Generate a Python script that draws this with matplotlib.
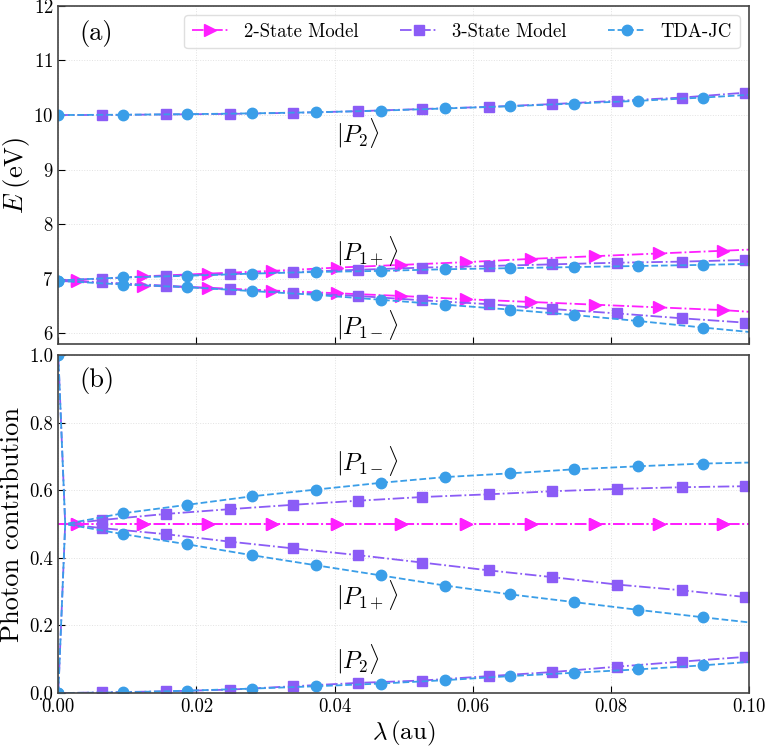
import matplotlib
matplotlib.use("Agg")
import matplotlib.pyplot as plt

plt.rcParams['font.family'] = 'serif'
plt.rcParams['font.serif'] = ['cmr10']
plt.rcParams['mathtext.fontset'] = 'cm'
plt.rcParams['axes.formatter.use_mathtext'] = True

# lambda grids (au) for each model
lam_2s = [0.0, 0.0027, 0.0123, 0.0217, 0.031, 0.0403, 0.0496, 0.059, 0.0684, 0.0777, 0.087, 0.0963, 0.1]
lam_3s = [0.0, 0.001, 0.0063, 0.0156, 0.0248, 0.034, 0.0434, 0.0527, 0.0623, 0.0715, 0.0809, 0.0903, 0.0995]
lam_tda = [0.0, 0.001, 0.0094, 0.0187, 0.028, 0.0373, 0.0467, 0.056, 0.0654, 0.0747, 0.084, 0.0934, 0.1]

# energies (eV)
E_2s_up = [6.96, 6.97, 7.04, 7.09, 7.14, 7.2, 7.25, 7.3, 7.36, 7.41, 7.46, 7.51, 7.53]
E_2s_lo = [6.96, 6.95, 6.87, 6.83, 6.78, 6.73, 6.68, 6.62, 6.57, 6.52, 6.47, 6.42, 6.39]
E_3s_up = [6.96, 6.97, 7.0, 7.05, 7.08, 7.12, 7.16, 7.2, 7.23, 7.26, 7.29, 7.31, 7.34]
E_3s_lo = [6.96, 6.95, 6.93, 6.87, 6.8, 6.74, 6.68, 6.6, 6.53, 6.44, 6.36, 6.27, 6.19]
E_3s_p2 = [10.0, 10.0, 10.0, 10.01, 10.02, 10.04, 10.07, 10.11, 10.15, 10.2, 10.26, 10.32, 10.41]
E_tda_up = [6.96, 6.97, 7.02, 7.05, 7.09, 7.12, 7.14, 7.17, 7.19, 7.21, 7.23, 7.25, 7.27]
E_tda_lo = [6.96, 6.95, 6.89, 6.84, 6.77, 6.7, 6.61, 6.52, 6.43, 6.33, 6.22, 6.1, 6.02]
E_tda_p2 = [10.0, 10.0, 10.005, 10.015, 10.03, 10.05, 10.08, 10.12, 10.16, 10.21, 10.26, 10.32, 10.37]

# photon contribution
ph_2s_up = [0.5] * 13
ph_2s_lo = [0.5] * 13
ph_3s_m = [0.0, 0.5, 0.512, 0.53, 0.544, 0.557, 0.569, 0.58, 0.588, 0.597, 0.604, 0.609, 0.612]
ph_3s_p = [1.0, 0.5, 0.488, 0.47, 0.448, 0.428, 0.408, 0.386, 0.363, 0.343, 0.321, 0.304, 0.284]
ph_3s_p2 = [0.0, 0.0, 0.002, 0.005, 0.01, 0.02, 0.03, 0.037, 0.05, 0.062, 0.078, 0.093, 0.107]
ph_tda_m = [0.0, 0.5, 0.532, 0.557, 0.582, 0.602, 0.622, 0.639, 0.65, 0.662, 0.671, 0.679, 0.682]
ph_tda_p = [1.0, 0.5, 0.47, 0.44, 0.408, 0.378, 0.348, 0.318, 0.292, 0.269, 0.246, 0.224, 0.209]
ph_tda_p2 = [0.0, 0.0, 0.002, 0.007, 0.013, 0.02, 0.028, 0.038, 0.05, 0.06, 0.07, 0.082, 0.092]

c2 = '#ff1fff'
c3 = '#8b5cf6'
ct = '#3a9ee8'
mk2 = list(range(1, 12))
mk3 = list(range(2, 13))
mkt = [0] + list(range(2, 12))

sty2 = dict(color=c2, ls='-.', marker='>', ms=8, lw=1.3, markevery=mk2)
sty3 = dict(color=c3, ls='-.', marker='s', ms=7.5, lw=1.3, markevery=mk3)
styt = dict(color=ct, ls='--', marker='o', ms=7.5, lw=1.3, markevery=mkt)

fig, (ax1, ax2) = plt.subplots(2, 1, figsize=(7.65, 7.48), dpi=100, sharex=True)
fig.subplots_adjust(left=0.0762, right=0.979, top=0.992, bottom=0.0735, hspace=0.033)

# (a) energies
ax1.plot(lam_2s, E_2s_up, label='2-State Model', **sty2)
ax1.plot(lam_2s, E_2s_lo, **sty2)
ax1.plot(lam_3s, E_3s_up, label='3-State Model', **sty3)
ax1.plot(lam_3s, E_3s_lo, **sty3)
ax1.plot(lam_3s, E_3s_p2, **sty3)
ax1.plot(lam_tda, E_tda_up, label='TDA-JC', **styt)
ax1.plot(lam_tda, E_tda_lo, **styt)
ax1.plot(lam_tda, E_tda_p2, **styt)
ax1.set_ylim(5.8, 12)
ax1.set_ylabel(r'$E\;(\mathrm{eV})$', fontsize=19)
ax1.yaxis.set_label_coords(-0.038, 0.5)
ax1.text(0.0031, 11.5, '(a)', fontsize=19, va='center')
ax1.text(0.0402, 9.67, r'$|P_2\rangle$', fontsize=17.5, va='center')
ax1.text(0.0402, 7.5, r'$|P_{1+}\rangle$', fontsize=17.5, va='center')
ax1.text(0.0402, 6.15, r'$|P_{1-}\rangle$', fontsize=17.5, va='center')
leg = ax1.legend(loc='upper right', ncol=3, fontsize=13.5, frameon=True, fancybox=True,
                 edgecolor='#d8d8d8', borderaxespad=0.5, columnspacing=2.2)

# (b) photon contribution
ax2.plot(lam_2s, ph_2s_up, **sty2)
ax2.plot(lam_2s, ph_2s_lo, **sty2)
ax2.plot(lam_3s, ph_3s_m, **sty3)
ax2.plot(lam_3s, ph_3s_p, **sty3)
ax2.plot(lam_3s, ph_3s_p2, **sty3)
ax2.plot(lam_tda, ph_tda_m, **styt)
ax2.plot(lam_tda, ph_tda_p, **styt)
ax2.plot(lam_tda, ph_tda_p2, **styt)
ax2.set_ylim(0, 1)
ax2.set_xlim(0, 0.1)
ax2.set_ylabel('Photon contribution', fontsize=19)
ax2.yaxis.set_label_coords(-0.05, 0.5)
ax2.set_xlabel(r'$\lambda\,(\mathrm{au})$', fontsize=18, labelpad=2)
ax2.text(0.0031, 0.925, '(b)', fontsize=19, va='center')
ax2.text(0.0402, 0.685, r'$|P_{1-}\rangle$', fontsize=17.5, va='center')
ax2.text(0.0402, 0.29, r'$|P_{1+}\rangle$', fontsize=17.5, va='center')
ax2.text(0.0402, 0.10, r'$|P_2\rangle$', fontsize=17.5, va='center')
ax2.set_xticks([0, 0.02, 0.04, 0.06, 0.08, 0.10])
ax2.set_xticklabels(['0.00', '0.02', '0.04', '0.06', '0.08', '0.10'])
ax2.set_yticks([0, 0.2, 0.4, 0.6, 0.8, 1.0])
ax2.set_yticklabels(['0.0', '0.2', '0.4', '0.6', '0.8', '1.0'])

for ax in (ax1, ax2):
    ax.tick_params(direction='in', length=5, labelsize=13.5)
    ax.grid(color='#e2e2e2', ls=':', lw=0.7)
    for s in ax.spines.values():
        s.set_color('#444444')
        s.set_linewidth(1.2)

plt.savefig('out.png', dpi=100)
